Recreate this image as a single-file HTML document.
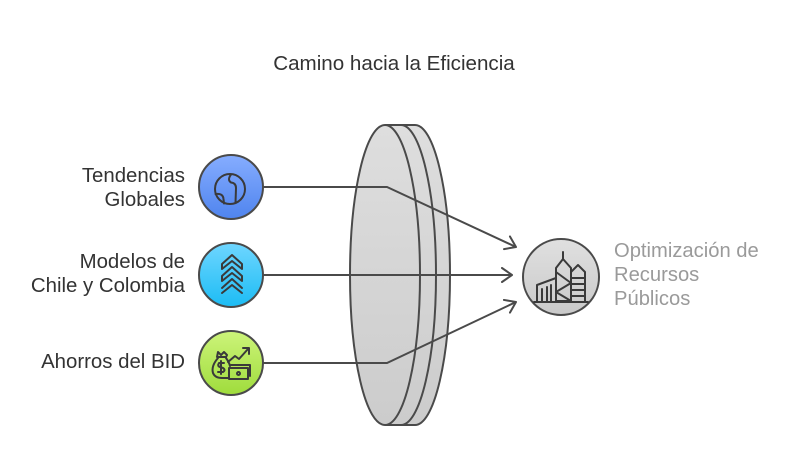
<!DOCTYPE html>
<html>
<head>
<meta charset="utf-8">
<style>
html,body{margin:0;padding:0;background:#fff;}
svg{display:block;}
text{font-family:"Liberation Sans",Arial,sans-serif;}
</style>
</head>
<body>
<svg width="800" height="476" viewBox="0 0 800 476" xmlns="http://www.w3.org/2000/svg">
<defs>
<linearGradient id="gBlue" x1="0" y1="0" x2="0" y2="1">
<stop offset="0" stop-color="#86adff"/><stop offset="1" stop-color="#4f84ee"/>
</linearGradient>
<linearGradient id="gCyan" x1="0" y1="0" x2="0" y2="1">
<stop offset="0" stop-color="#6fd6ff"/><stop offset="1" stop-color="#1cbcf4"/>
</linearGradient>
<linearGradient id="gGreen" x1="0" y1="0" x2="0" y2="1">
<stop offset="0" stop-color="#cdf47a"/><stop offset="1" stop-color="#9fdc3c"/>
</linearGradient>
<linearGradient id="gGray" x1="0" y1="0" x2="0" y2="1">
<stop offset="0" stop-color="#e0e0e0"/><stop offset="1" stop-color="#c9c9c9"/>
</linearGradient>
<linearGradient id="gLens" x1="0" y1="0" x2="0" y2="1">
<stop offset="0" stop-color="#dedede"/><stop offset="1" stop-color="#cccccc"/>
</linearGradient>
<marker id="arr" markerUnits="userSpaceOnUse" markerWidth="14" markerHeight="18" refX="11" refY="8" orient="auto">
<path d="M1,1 L11,8 L1,15" fill="none" stroke="#4a4a4a" stroke-width="2" stroke-linecap="round" stroke-linejoin="round"/>
</marker>
</defs>

<text x="394" y="70" font-size="20.6" fill="#333" text-anchor="middle">Camino hacia la Eficiencia</text>

<!-- Lens -->
<path d="M385,125 L415,125 A35,150 0 0 1 415,425 L385,425 A35,150 0 0 1 385,125 Z" fill="url(#gLens)" stroke="#4a4a4a" stroke-width="2" stroke-linejoin="round"/>
<path d="M385,125 A35,150 0 0 1 385,425" fill="none" stroke="#4a4a4a" stroke-width="2"/>
<path d="M401,125 A35,150 0 0 1 401,425" fill="none" stroke="#4a4a4a" stroke-width="2"/>

<!-- Connectors -->
<polyline points="263,187 387,187 516,247" fill="none" stroke="#4a4a4a" stroke-width="2" marker-end="url(#arr)"/>
<polyline points="263,275 512,275" fill="none" stroke="#4a4a4a" stroke-width="2" marker-end="url(#arr)"/>
<polyline points="263,363 387,363 516,302" fill="none" stroke="#4a4a4a" stroke-width="2" marker-end="url(#arr)"/>

<!-- Left circles -->
<circle cx="231" cy="187" r="32" fill="url(#gBlue)" stroke="#4a4a4a" stroke-width="2"/>
<circle cx="231" cy="275" r="32" fill="url(#gCyan)" stroke="#4a4a4a" stroke-width="2"/>
<circle cx="231" cy="363" r="32" fill="url(#gGreen)" stroke="#4a4a4a" stroke-width="2"/>

<!-- Globe icon -->
<g fill="none" stroke="#3a3a3a" stroke-width="2" stroke-linecap="round" stroke-linejoin="round">
<circle cx="230" cy="189" r="15"/>
<path d="M215.5,194 Q223,193 223.5,199 L224,203.5"/>
<path d="M231,174.5 Q227,180 231,182.5 Q236,183 236,188 L235.5,203"/>
</g>

<!-- Chevrons icon -->
<g fill="none" stroke="#3a3a3a" stroke-width="2" stroke-linejoin="round" stroke-linecap="round">
<path d="M222,264 L232,255 L242,264 L242,269 L232,261 L222,269 Z"/>
<path d="M222,276 L232,267 L242,276 L242,281 L232,273 L222,281 Z"/>
<path d="M222,288 L232,279 L242,288"/>
<path d="M222,293 L232,285 L242,293"/>
</g>

<!-- Money icon -->
<g fill="none" stroke="#3a3a3a" stroke-width="2" stroke-linejoin="round" stroke-linecap="round">
<path d="M218,352 L221,355 L224,352 L227,355 L226,357 L217,357 Z"/>
<path d="M218,358 Q211,366 213,373 Q215,378 222,378 L228,378"/>
<path d="M226,358 Q229,362 230,366"/>
<path d="M224,363 L219,363 Q217,366 220,367 L223,368 Q226,370 223,372 L218,372"/>
<line x1="221" y1="361" x2="221" y2="374"/>
<rect x="229" y="368" width="19" height="11"/>
<path d="M231,365 L250,365 L250,376"/>
<circle cx="238.5" cy="373.5" r="1.5"/>
<path d="M228,362 L235,356 L239,359 L248,349"/>
<path d="M243,348 L249,348 L249,354"/>
</g>

<!-- Target circle -->
<circle cx="561" cy="277" r="38" fill="url(#gGray)" stroke="#4a4a4a" stroke-width="2"/>
<g fill="none" stroke="#3a3a3a" stroke-width="2" stroke-linejoin="round" stroke-linecap="round">
<path d="M563,252 L563,259"/>
<path d="M556,268 L563,259 L571,268 L571,301 L556,301 Z"/>
<path d="M556,272 L571,283 L556,292 L571,301"/>
<path d="M537,301 L537,285 L556,278"/>
<line x1="542" y1="289" x2="542" y2="301"/>
<line x1="547" y1="287" x2="547" y2="301"/>
<line x1="551" y1="285" x2="551" y2="301"/>
<path d="M571,272 L578,265 L585,272 L585,301"/>
<line x1="571" y1="278" x2="585" y2="278"/>
<line x1="571" y1="284" x2="585" y2="284"/>
<line x1="571" y1="290" x2="585" y2="290"/>
<line x1="571" y1="296" x2="585" y2="296"/>
<line x1="534" y1="302" x2="588" y2="302"/>
</g>

<!-- Left labels -->
<g font-size="20.4" fill="#333" text-anchor="end">
<text x="185" y="182">Tendencias</text>
<text x="185" y="206">Globales</text>
<text x="185" y="268">Modelos de</text>
<text x="185" y="292">Chile y Colombia</text>
<text x="185" y="368">Ahorros del BID</text>
</g>

<!-- Right label -->
<g font-size="20.2" fill="#9a9a9a">
<text x="614" y="257">Optimización de</text>
<text x="614" y="281">Recursos</text>
<text x="614" y="305">Públicos</text>
</g>
</svg>
</body>
</html>
